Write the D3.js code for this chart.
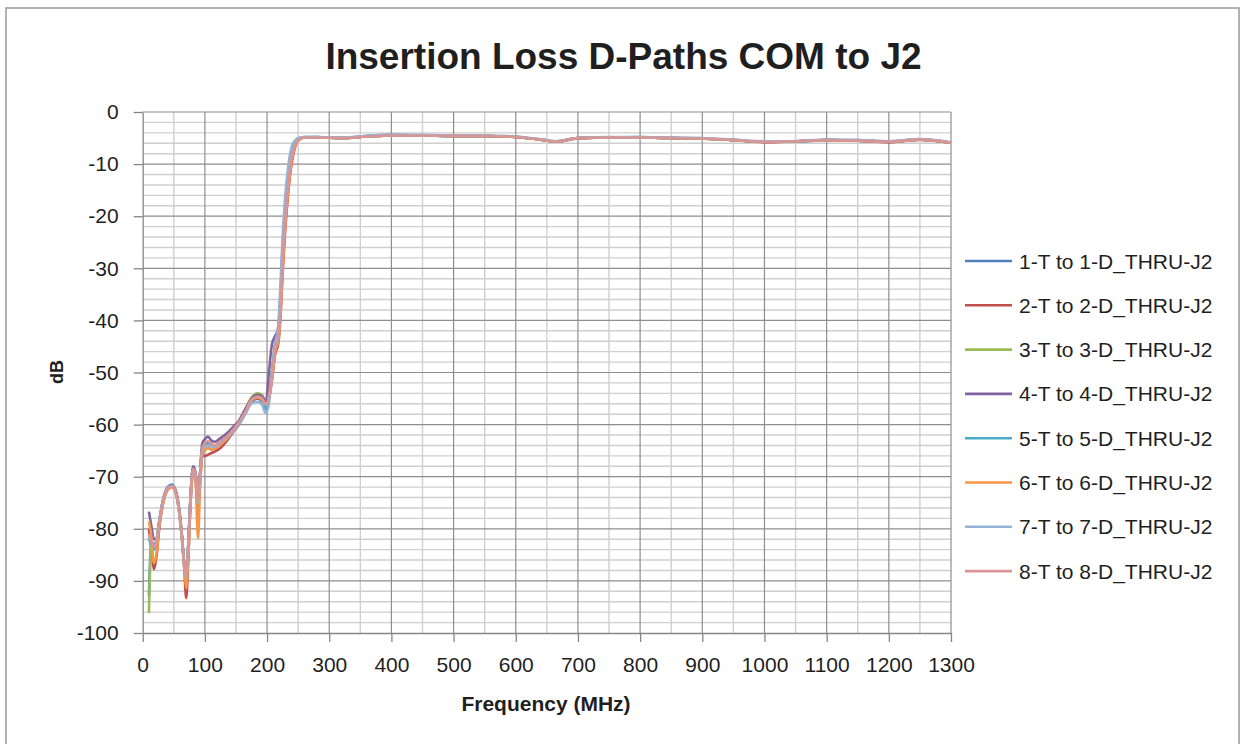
<!DOCTYPE html>
<html lang="en">
<head>
<meta charset="utf-8">
<title>Insertion Loss D-Paths COM to J2</title>
<script src="https://d3js.org/d3.v7.min.js"></script>
<style>
  body { margin: 0; background: #fff; }
  text { font-family: "Liberation Sans", Arial, sans-serif; fill: #1f1f1f; }
</style>
</head>
<body>
<svg width="1246" height="744"></svg>
<script>
// frequency points (MHz)
var freqMHz = [10, 14, 18, 22, 27, 33, 40, 47, 52, 58,
  63, 67, 70, 73, 77, 81, 85, 89, 92, 96,
  100, 105, 110, 116, 125, 135, 145, 155, 165, 175,
  185, 192, 198, 203, 208, 213, 218, 222, 225, 229,
  234, 240, 245, 250, 260, 280, 320, 360, 400, 450,
  500, 550, 600, 640, 665, 700, 750, 800, 850, 900,
  950, 1000, 1050, 1100, 1150, 1200, 1250, 1300];

// insertion loss (dB), one array per path
var s1 = [-93.0, -82.5, -83.0, -82.2, -78.2, -74.3, -72.0, -71.5, -72.4, -76.0,
  -81.5, -87.0, -89.0, -84.0, -74.0, -68.3, -69.5, -74.8, -70.0, -64.2,
  -63.5, -63.5, -63.8, -64.0, -63.3, -62.3, -61.0, -59.6, -57.6, -55.6,
  -55.0, -55.6, -57.0, -55.0, -50.0, -44.5, -42.0, -34.0, -26.0, -18.0,
  -11.5, -7.0, -5.8, -5.2, -4.8, -4.8, -5.0, -4.6, -4.4, -4.5,
  -4.6, -4.6, -4.8, -5.3, -5.7, -5.0, -4.9, -4.8, -5.0, -5.1,
  -5.4, -5.7, -5.7, -5.4, -5.5, -5.7, -5.3, -5.9];
var s2 = [-80.0, -84.0, -87.8, -85.5, -79.5, -75.0, -72.5, -71.9, -72.3, -75.5,
  -81.0, -88.0, -93.3, -87.0, -75.0, -69.0, -70.5, -76.0, -71.5, -66.0,
  -66.0, -65.8, -65.5, -65.2, -64.5, -63.2, -61.5, -60.0, -57.8, -55.6,
  -55.0, -55.3, -56.3, -55.0, -51.5, -46.5, -44.5, -38.5, -31.0, -23.0,
  -15.5, -9.5, -6.8, -5.5, -4.9, -4.9, -5.0, -4.7, -4.5, -4.5,
  -4.6, -4.6, -4.8, -5.3, -5.7, -5.1, -4.9, -4.9, -5.0, -5.1,
  -5.4, -5.8, -5.6, -5.4, -5.5, -5.8, -5.3, -5.9];
var s3 = [-96.2, -83.0, -83.5, -82.5, -78.5, -74.5, -72.3, -71.8, -72.6, -76.0,
  -81.5, -87.0, -89.0, -84.0, -74.0, -68.5, -69.8, -75.0, -71.0, -65.5,
  -65.0, -64.5, -64.8, -64.6, -63.7, -62.5, -61.0, -59.3, -57.2, -54.8,
  -54.0, -54.3, -55.5, -54.0, -50.0, -45.0, -43.0, -36.0, -28.5, -20.5,
  -13.5, -8.2, -6.2, -5.3, -4.9, -4.9, -5.0, -4.7, -4.5, -4.5,
  -4.6, -4.6, -4.8, -5.3, -5.6, -5.0, -4.9, -4.9, -5.0, -5.1,
  -5.4, -5.7, -5.6, -5.4, -5.5, -5.7, -5.3, -5.9];
var s4 = [-76.7, -79.5, -82.0, -82.0, -78.3, -74.3, -72.2, -71.7, -72.5, -76.0,
  -81.5, -87.0, -89.0, -83.5, -73.5, -68.0, -69.2, -74.5, -69.5, -63.5,
  -62.8, -62.3, -63.0, -63.3, -62.6, -61.7, -60.5, -59.2, -57.0, -55.0,
  -54.3, -54.6, -55.8, -50.0, -44.5, -43.0, -41.5, -35.5, -28.0, -20.0,
  -13.0, -8.0, -6.2, -5.3, -4.9, -4.9, -5.0, -4.7, -4.5, -4.5,
  -4.6, -4.6, -4.8, -5.3, -5.7, -5.0, -4.9, -4.9, -5.0, -5.1,
  -5.4, -5.7, -5.6, -5.4, -5.5, -5.7, -5.3, -5.9];
var s5 = [-82.0, -83.0, -84.0, -83.0, -78.8, -74.6, -72.3, -71.7, -72.5, -76.0,
  -81.5, -87.0, -89.2, -84.0, -74.0, -68.5, -69.7, -74.8, -70.3, -64.5,
  -64.0, -63.8, -64.0, -64.2, -63.5, -62.5, -61.2, -59.7, -57.7, -55.5,
  -54.8, -55.3, -56.7, -55.0, -50.0, -44.8, -42.5, -35.0, -27.0, -19.0,
  -12.5, -7.5, -6.0, -5.3, -4.9, -4.8, -5.0, -4.6, -4.5, -4.5,
  -4.6, -4.6, -4.8, -5.3, -5.7, -5.0, -4.9, -4.9, -5.0, -5.1,
  -5.4, -5.7, -5.6, -5.4, -5.4, -5.7, -5.3, -5.9];
var s6 = [-78.6, -81.5, -86.6, -85.0, -79.0, -75.0, -72.5, -72.0, -72.8, -76.2,
  -82.0, -87.5, -91.4, -86.0, -75.0, -69.0, -71.0, -81.8, -73.0, -65.5,
  -64.8, -64.5, -64.8, -64.6, -63.8, -62.8, -61.3, -59.8, -57.7, -55.2,
  -54.8, -55.2, -56.0, -54.7, -51.0, -46.0, -44.0, -38.0, -30.0, -22.0,
  -15.0, -9.0, -6.6, -5.5, -4.9, -4.9, -5.0, -4.7, -4.5, -4.5,
  -4.6, -4.6, -4.8, -5.3, -5.7, -5.0, -4.9, -4.9, -5.0, -5.1,
  -5.4, -5.7, -5.6, -5.4, -5.5, -5.7, -5.3, -5.9];
var s7 = [-81.5, -82.5, -83.5, -82.5, -78.3, -74.3, -72.2, -71.8, -72.7, -76.2,
  -81.7, -87.2, -89.3, -84.2, -74.3, -68.7, -69.8, -75.0, -70.5, -64.8,
  -64.2, -64.0, -64.2, -64.3, -63.5, -62.5, -61.3, -59.9, -58.0, -56.0,
  -55.6, -56.2, -57.8, -56.0, -50.5, -44.5, -41.0, -32.0, -24.0, -16.5,
  -10.5, -6.5, -5.5, -5.0, -4.8, -4.8, -4.9, -4.6, -4.4, -4.4,
  -4.5, -4.5, -4.7, -5.2, -5.6, -5.0, -4.8, -4.8, -4.9, -5.0,
  -5.3, -5.6, -5.6, -5.3, -5.4, -5.6, -5.2, -5.8];
var s8 = [-81.0, -82.5, -83.5, -82.5, -78.5, -74.5, -72.3, -71.8, -72.6, -76.0,
  -81.5, -87.0, -89.0, -84.0, -74.0, -68.5, -69.5, -74.5, -70.0, -64.5,
  -63.5, -63.2, -63.6, -64.0, -63.3, -62.3, -61.0, -59.5, -57.5, -55.3,
  -54.6, -55.0, -56.2, -54.5, -50.5, -45.5, -43.5, -37.0, -29.0, -21.0,
  -14.0, -8.5, -6.4, -5.4, -4.9, -4.9, -5.0, -4.7, -4.5, -4.5,
  -4.6, -4.6, -4.8, -5.3, -5.7, -5.0, -4.9, -4.9, -5.0, -5.1,
  -5.4, -5.7, -5.6, -5.4, -5.5, -5.7, -5.3, -5.9];

var seriesNames = ["1-T to 1-D_THRU-J2", "2-T to 2-D_THRU-J2", "3-T to 3-D_THRU-J2", "4-T to 4-D_THRU-J2",
  "5-T to 5-D_THRU-J2", "6-T to 6-D_THRU-J2", "7-T to 7-D_THRU-J2", "8-T to 8-D_THRU-J2"];
var xTicks = [0, 100, 200, 300, 400, 500, 600, 700, 800, 900, 1000, 1100, 1200, 1300];
var yTicks = [0, -10, -20, -30, -40, -50, -60, -70, -80, -90, -100];

var colors = ["#4F81BD", "#C0504D", "#9BBB59", "#8064A2", "#4BACC6", "#F79646", "#95B3D7", "#D99694"];
var allSeries = [s1, s2, s3, s4, s5, s6, s7, s8];

var svg = d3.select("svg");
var plot = {left: 142.7, right: 951, top: 112, bottom: 633};

// outer chart border
svg.append("rect")
    .attr("x", 6).attr("y", 8)
    .attr("width", 1233).attr("height", 760)
    .attr("fill", "#fff")
    .attr("stroke", "#999").attr("stroke-width", 1.5);

var x = d3.scaleLinear().domain([0, 1300]).range([plot.left, plot.right]);
var y = d3.scaleLinear().domain([-100, 0]).range([plot.bottom, plot.top]);

// minor grid
var grid = svg.append("g");
grid.selectAll(".vminor")
    .data(d3.range(50, 1300, 100))
    .enter().append("line")
    .attr("x1", function(d){ return x(d); }).attr("x2", function(d){ return x(d); })
    .attr("y1", plot.top).attr("y2", plot.bottom)
    .attr("stroke", "#cfcfcf").attr("stroke-width", 1.4);
grid.selectAll(".hminor")
    .data(d3.range(-98, 0, 2).filter(function(d){ return d % 10 !== 0; }))
    .enter().append("line")
    .attr("x1", plot.left).attr("x2", plot.right)
    .attr("y1", function(d){ return y(d); }).attr("y2", function(d){ return y(d); })
    .attr("stroke", "#cfcfcf").attr("stroke-width", 1.4);
// major grid
grid.selectAll(".vmajor")
    .data(xTicks.slice(1))
    .enter().append("line")
    .attr("x1", function(d){ return x(d); }).attr("x2", function(d){ return x(d); })
    .attr("y1", plot.top).attr("y2", plot.bottom)
    .attr("stroke", "#8e8e8e").attr("stroke-width", 1.2);
grid.selectAll(".hmajor")
    .data(yTicks.slice(0, -1))
    .enter().append("line")
    .attr("x1", plot.left).attr("x2", plot.right)
    .attr("y1", function(d){ return y(d); }).attr("y2", function(d){ return y(d); })
    .attr("stroke", "#8e8e8e").attr("stroke-width", 1.2);

// axes
var xAxis = d3.axisBottom(x).tickValues(xTicks).tickSize(9).tickSizeOuter(0).tickPadding(15)
    .tickFormat(function(d){ return String(d); });
var yAxis = d3.axisLeft(y).tickValues(yTicks).tickSize(9).tickSizeOuter(0).tickPadding(15)
    .tickFormat(function(d){ return String(d); });

var gx = svg.append("g").attr("transform", "translate(0," + plot.bottom + ")").call(xAxis);
var gy = svg.append("g").attr("transform", "translate(" + plot.left + ",0)").call(yAxis);
[gx, gy].forEach(function(g){
    g.select(".domain").attr("stroke", "#868686").attr("stroke-width", 1.3);
    g.selectAll(".tick line").attr("stroke", "#868686").attr("stroke-width", 1.3);
    g.selectAll(".tick text").attr("font-size", 21).attr("fill", "#1f1f1f")
        .attr("font-family", "'Liberation Sans', Arial, sans-serif");
});

// series lines
var line = d3.line()
    .x(function(d){ return x(d[0]); })
    .y(function(d){ return y(d[1]); })
    .curve(d3.curveMonotoneX);

allSeries.forEach(function(vals, i){
    svg.append("path")
        .datum(freqMHz.map(function(f, j){ return [f, vals[j]]; }))
        .attr("fill", "none")
        .attr("stroke", colors[i])
        .attr("stroke-width", 2.6)
        .attr("stroke-linejoin", "round")
        .attr("d", line);
});

// title and axis titles
svg.append("text")
    .attr("x", 623.5).attr("y", 69)
    .attr("text-anchor", "middle")
    .attr("font-size", 37).attr("font-weight", "bold")
    .attr("fill", "#000")
    .text("Insertion Loss D-Paths COM to J2");

svg.append("text")
    .attr("transform", "translate(63,372) rotate(-90)")
    .attr("text-anchor", "middle")
    .attr("font-size", 18).attr("font-weight", "bold")
    .attr("fill", "#000")
    .text("dB");

svg.append("text")
    .attr("x", 546).attr("y", 711)
    .attr("text-anchor", "middle")
    .attr("font-size", 21).attr("font-weight", "bold")
    .attr("fill", "#000")
    .text("Frequency (MHz)");

// legend
var legend = svg.append("g").attr("transform", "translate(965,261)");
var items = legend.selectAll("g").data(seriesNames).enter().append("g")
    .attr("transform", function(d, i){ return "translate(0," + (i * 44.3) + ")"; });
items.append("line")
    .attr("x1", 0).attr("x2", 47).attr("y1", 0).attr("y2", 0)
    .attr("stroke", function(d, i){ return colors[i]; })
    .attr("stroke-width", 2.6);
items.append("text")
    .attr("x", 54).attr("y", 0).attr("dy", "0.36em")
    .attr("font-size", 21)
    .text(function(d){ return d; });
</script>
</body>
</html>
